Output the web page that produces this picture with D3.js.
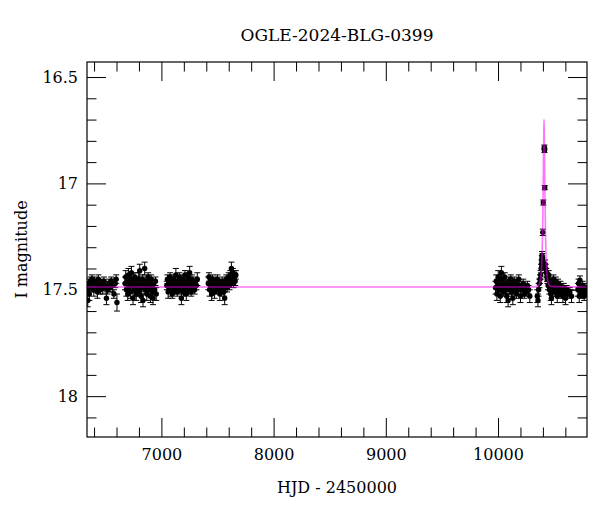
<!DOCTYPE html>
<html>
<head>
<meta charset="utf-8">
<script src="https://cdn.jsdelivr.net/npm/d3@7"></script>
<style>
  html, body { margin: 0; padding: 0; background: #fff; }
  svg text { font-family: "DejaVu Serif", "Liberation Serif", serif; fill: #000; }
</style>
</head>
<body>
<svg id="chart" width="600" height="512"></svg>
<script>
// photometry per observing season: [HJD-2450000, I mag, error]
const season2013 = [
  [6340,17.50,0.03],[6344,17.55,0.03],[6352,17.47,0.02],[6358,17.52,0.03],[6366,17.46,0.02],
  [6374,17.49,0.02],[6381,17.45,0.02],[6390,17.48,0.02],[6398,17.50,0.03],[6405,17.46,0.02],
  [6413,17.49,0.02],[6421,17.47,0.02],[6430,17.51,0.03],[6438,17.45,0.02],[6447,17.48,0.02],
  [6456,17.50,0.02],[6466,17.47,0.02],[6477,17.49,0.03],[6488,17.46,0.02],[6498,17.48,0.02],
  [6510,17.54,0.03],[6520,17.50,0.02],[6531,17.47,0.02],[6542,17.49,0.02],[6553,17.46,0.02],
  [6565,17.48,0.03],[6577,17.52,0.02],[6588,17.47,0.02],[6597,17.45,0.02],[6604,17.56,0.04]
];
const season2014 = [
  [6676,17.47,0.03],[6682,17.44,0.03],[6688,17.50,0.03],[6694,17.46,0.02],[6700,17.52,0.03],
  [6706,17.43,0.03],[6712,17.49,0.02],[6718,17.47,0.02],[6724,17.51,0.03],[6730,17.45,0.02],
  [6733,17.42,0.03],[6740,17.48,0.02],[6747,17.54,0.03],[6752,17.46,0.02],[6758,17.50,0.03],
  [6764,17.44,0.02],[6770,17.48,0.02],[6776,17.52,0.03],[6782,17.46,0.02],[6788,17.49,0.02],
  [6795,17.45,0.03],[6801,17.51,0.02],[6807,17.41,0.03],[6813,17.47,0.02],[6819,17.53,0.03],
  [6825,17.49,0.02],[6831,17.45,0.02],[6836,17.55,0.03],[6842,17.48,0.02],[6851,17.40,0.03],
  [6857,17.50,0.02],[6863,17.46,0.02],[6870,17.52,0.03],[6876,17.48,0.02],[6882,17.44,0.02],
  [6889,17.50,0.03],[6895,17.47,0.02],[6902,17.53,0.03],[6909,17.45,0.02],[6916,17.49,0.02],
  [6923,17.51,0.03],[6925,17.54,0.03],[6932,17.47,0.02],[6940,17.50,0.02],[6947,17.46,0.02],
  [6954,17.52,0.03]
];
const season2015 = [
  [7048,17.48,0.02],[7054,17.45,0.02],[7060,17.51,0.03],[7066,17.47,0.02],[7072,17.49,0.02],
  [7078,17.44,0.02],[7085,17.50,0.03],[7091,17.46,0.02],[7097,17.52,0.02],[7104,17.48,0.02],
  [7110,17.45,0.02],[7116,17.50,0.02],[7122,17.47,0.02],[7129,17.43,0.03],[7135,17.49,0.02],
  [7141,17.51,0.02],[7147,17.46,0.02],[7154,17.48,0.02],[7160,17.44,0.02],[7166,17.50,0.02],
  [7172,17.47,0.02],[7178,17.54,0.03],[7185,17.49,0.02],[7191,17.45,0.02],[7197,17.51,0.02],
  [7204,17.47,0.02],[7210,17.43,0.02],[7216,17.49,0.02],[7222,17.52,0.03],[7229,17.46,0.02],
  [7235,17.48,0.02],[7241,17.44,0.02],[7247,17.50,0.02],[7252,17.42,0.03],[7258,17.47,0.02],
  [7265,17.51,0.02],[7272,17.45,0.02],[7280,17.49,0.02],[7288,17.47,0.02],[7296,17.50,0.02],
  [7305,17.46,0.02],[7312,17.48,0.02],[7320,17.45,0.03]
];
const season2016 = [
  [7418,17.47,0.03],[7424,17.44,0.02],[7430,17.50,0.03],[7436,17.46,0.02],[7442,17.48,0.02],
  [7448,17.52,0.03],[7455,17.45,0.02],[7461,17.49,0.02],[7467,17.47,0.02],[7474,17.51,0.03],
  [7480,17.46,0.02],[7486,17.48,0.02],[7493,17.50,0.02],[7500,17.45,0.02],[7507,17.49,0.02],
  [7514,17.47,0.02],[7521,17.52,0.03],[7528,17.48,0.02],[7535,17.50,0.02],[7542,17.46,0.02],
  [7549,17.49,0.02],[7556,17.51,0.02],[7564,17.54,0.03],[7571,17.47,0.02],[7578,17.45,0.02],
  [7585,17.49,0.02],[7592,17.46,0.02],[7600,17.44,0.02],[7607,17.48,0.02],[7614,17.43,0.02],
  [7620,17.46,0.02],[7624,17.40,0.03],[7630,17.45,0.02],[7636,17.42,0.02],[7643,17.47,0.02],
  [7650,17.44,0.02],[7657,17.46,0.02],[7664,17.43,0.02]
];
const season2023 = [
  [9978,17.49,0.03],[9984,17.46,0.03],[9990,17.52,0.03],[9996,17.47,0.02],[10002,17.44,0.03],
  [10008,17.50,0.02],[10014,17.48,0.02],[10020,17.53,0.03],[10026,17.45,0.02],[10030,17.42,0.03],
  [10036,17.49,0.02],[10042,17.46,0.02],[10048,17.51,0.02],[10054,17.48,0.02],[10060,17.44,0.02],
  [10066,17.50,0.02],[10072,17.47,0.02],[10078,17.53,0.03],[10084,17.49,0.02],[10090,17.55,0.03],
  [10096,17.46,0.02],[10102,17.50,0.02],[10108,17.48,0.02],[10114,17.45,0.02],[10120,17.51,0.02],
  [10126,17.47,0.02],[10132,17.54,0.03],[10138,17.49,0.02],[10144,17.46,0.02],[10150,17.50,0.02],
  [10157,17.48,0.02],[10164,17.52,0.02],[10171,17.47,0.02],[10178,17.50,0.02],[10185,17.45,0.02],
  [10192,17.49,0.02],[10200,17.53,0.03],[10208,17.48,0.02],[10216,17.50,0.02],[10225,17.47,0.02],
  [10234,17.52,0.02],[10243,17.49,0.02],[10252,17.51,0.02],[10262,17.48,0.02],[10272,17.50,0.02],
  [10283,17.53,0.03]
];
const season2024 = [
  [10350,17.53,0.03],[10356,17.55,0.03],[10362,17.50,0.03],[10368,17.47,0.02],[10374,17.45,0.02],
  [10380,17.43,0.02],[10385,17.40,0.02],[10388,17.38,0.02],[10390,17.36,0.02],[10392,17.34,0.02],
  [10394,17.37,0.02],[10396,17.35,0.02],[10399,17.23,0.015],[10404,17.09,0.012],[10413,16.83,0.01],
  [10414,16.845,0.01],[10416,17.02,0.01],[10420,17.38,0.02],[10425,17.40,0.02],[10430,17.42,0.02],
  [10436,17.44,0.02],[10440,17.45,0.02],[10446,17.48,0.02],[10452,17.43,0.02],[10458,17.50,0.02],
  [10464,17.46,0.02],[10470,17.52,0.03],[10476,17.54,0.03],[10482,17.47,0.02],[10488,17.49,0.02],
  [10494,17.45,0.02],[10500,17.51,0.02],[10507,17.48,0.02],[10514,17.46,0.02],[10521,17.50,0.02],
  [10528,17.53,0.03],[10535,17.47,0.02],[10542,17.49,0.02],[10549,17.51,0.02],[10556,17.48,0.02],
  [10563,17.52,0.02],[10570,17.50,0.02],[10578,17.53,0.03],[10586,17.49,0.02],[10594,17.51,0.02],
  [10602,17.54,0.03],[10612,17.50,0.02],[10622,17.52,0.02],[10640,17.51,0.02],[10655,17.53,0.03]
];
const season2025 = [
  [10712,17.50,0.03],[10718,17.47,0.02],[10724,17.53,0.03],[10730,17.455,0.02],[10736,17.51,0.02],
  [10742,17.49,0.02],[10748,17.52,0.02],[10754,17.48,0.02],[10760,17.50,0.02],[10768,17.53,0.02],
  [10776,17.49,0.02],[10785,17.51,0.02],[10792,17.50,0.02]
];

// model curve: [HJD-2450000, I mag]
const modelHjd = [6337, 10300, 10350, 10370, 10383, 10390, 10396, 10400, 10403, 10406, 10408,
  10410, 10412, 10414, 10417, 10420, 10424, 10430, 10437, 10450, 10470, 10793];
const modelMag = [17.487, 17.487, 17.484, 17.471, 17.434, 17.372, 17.255, 17.126, 17.00, 16.85, 16.767,
  16.70, 16.767, 16.85, 17.00, 17.126, 17.255, 17.372, 17.434, 17.471, 17.484, 17.487];

const xMajor = [7000, 8000, 9000, 10000];
const xMinor = [6400, 6600, 6800, 7200, 7400, 7600, 7800, 8200, 8400, 8600, 8800,
  9200, 9400, 9600, 9800, 10200, 10400, 10600];
const yMajor = [16.5, 17, 17.5, 18];
const yMinor = [16.6, 16.7, 16.8, 16.9, 17.1, 17.2, 17.3, 17.4, 17.6, 17.7, 17.8, 17.9, 18.1];

const W = 600, H = 512;
const margin = { top: 62, right: 13, bottom: 75, left: 87 };
const svg = d3.select("#chart");

const x = d3.scaleLinear().domain([6337, 10793]).range([margin.left, W - margin.right]);
const y = d3.scaleLinear().domain([16.4294, 18.192]).range([margin.top, H - margin.bottom]);

svg.append("defs").append("clipPath").attr("id", "plotclip")
  .append("rect")
  .attr("x", margin.left).attr("y", margin.top)
  .attr("width", W - margin.left - margin.right)
  .attr("height", H - margin.top - margin.bottom);

const points = [].concat(season2013, season2014, season2015, season2016,
  season2023, season2024, season2025).map(([t, m, e]) => ({ t, m, e }));

const plot = svg.append("g").attr("clip-path", "url(#plotclip)");

// error bars with caps
const bars = plot.append("g").attr("stroke", "#000").attr("stroke-width", 1);
bars.selectAll("line.err").data(points).join("line")
  .attr("class", "err")
  .attr("x1", (d) => x(d.t)).attr("x2", (d) => x(d.t))
  .attr("y1", (d) => y(d.m - d.e)).attr("y2", (d) => y(d.m + d.e));
bars.selectAll("line.capTop").data(points).join("line")
  .attr("class", "capTop")
  .attr("x1", (d) => x(d.t) - 3).attr("x2", (d) => x(d.t) + 3)
  .attr("y1", (d) => y(d.m - d.e)).attr("y2", (d) => y(d.m - d.e));
bars.selectAll("line.capBot").data(points).join("line")
  .attr("class", "capBot")
  .attr("x1", (d) => x(d.t) - 3).attr("x2", (d) => x(d.t) + 3)
  .attr("y1", (d) => y(d.m + d.e)).attr("y2", (d) => y(d.m + d.e));

plot.append("g").selectAll("circle").data(points).join("circle")
  .attr("cx", (d) => x(d.t)).attr("cy", (d) => y(d.m))
  .attr("r", 2.7).attr("fill", "#000");

// model on top, semi-transparent magenta
const model = modelHjd.map((t, i) => [t, modelMag[i]]);
plot.append("path").datum(model)
  .attr("fill", "none")
  .attr("stroke", "#ff00ff")
  .attr("stroke-opacity", 0.55)
  .attr("stroke-width", 1.6)
  .attr("d", d3.line().x((d) => x(d[0])).y((d) => y(d[1])).curve(d3.curveMonotoneX));

// axes, ticks pointing inward on all four sides
const major = 19, minor = 9.5;
function styleAxis(g) {
  g.select(".domain").remove();
  g.selectAll(".tick line").attr("stroke", "#000");
  g.attr("font-family", null).attr("font-size", null);
}
const pBottom = H - margin.bottom, pTop = margin.top;
const pLeft = margin.left, pRight = W - margin.right;

svg.append("g").attr("transform", `translate(0,${pBottom})`)
  .call(d3.axisBottom(x).tickValues(xMajor).tickSize(-major).tickPadding(12).tickFormat(d3.format("d")))
  .call(styleAxis)
  .selectAll("text").attr("font-size", 16);
svg.append("g").attr("transform", `translate(0,${pBottom})`)
  .call(d3.axisBottom(x).tickValues(xMinor).tickSize(-minor).tickFormat(""))
  .call(styleAxis);
svg.append("g").attr("transform", `translate(0,${pTop})`)
  .call(d3.axisTop(x).tickValues(xMajor).tickSize(-major).tickFormat(""))
  .call(styleAxis);
svg.append("g").attr("transform", `translate(0,${pTop})`)
  .call(d3.axisTop(x).tickValues(xMinor).tickSize(-minor).tickFormat(""))
  .call(styleAxis);

svg.append("g").attr("transform", `translate(${pLeft},0)`)
  .call(d3.axisLeft(y).tickValues(yMajor).tickSize(-major).tickPadding(9).tickFormat((d) => String(d)))
  .call(styleAxis)
  .selectAll("text").attr("font-size", 16);
svg.append("g").attr("transform", `translate(${pLeft},0)`)
  .call(d3.axisLeft(y).tickValues(yMinor).tickSize(-minor).tickFormat(""))
  .call(styleAxis);
svg.append("g").attr("transform", `translate(${pRight},0)`)
  .call(d3.axisRight(y).tickValues(yMajor).tickSize(-major).tickFormat(""))
  .call(styleAxis);
svg.append("g").attr("transform", `translate(${pRight},0)`)
  .call(d3.axisRight(y).tickValues(yMinor).tickSize(-minor).tickFormat(""))
  .call(styleAxis);

svg.append("rect")
  .attr("x", pLeft).attr("y", pTop)
  .attr("width", pRight - pLeft).attr("height", pBottom - pTop)
  .attr("fill", "none").attr("stroke", "#000").attr("stroke-width", 1.2);

// labels
svg.append("text")
  .attr("x", (pLeft + pRight) / 2).attr("y", 41)
  .attr("text-anchor", "middle").attr("font-size", 17)
  .text("OGLE-2024-BLG-0399");
svg.append("text")
  .attr("x", (pLeft + pRight) / 2).attr("y", 493)
  .attr("text-anchor", "middle").attr("font-size", 16)
  .text("HJD - 2450000");
svg.append("text")
  .attr("transform", `translate(27,${(pTop + pBottom) / 2}) rotate(-90)`)
  .attr("text-anchor", "middle").attr("font-size", 16)
  .text("I magnitude");
</script>
</body>
</html>
